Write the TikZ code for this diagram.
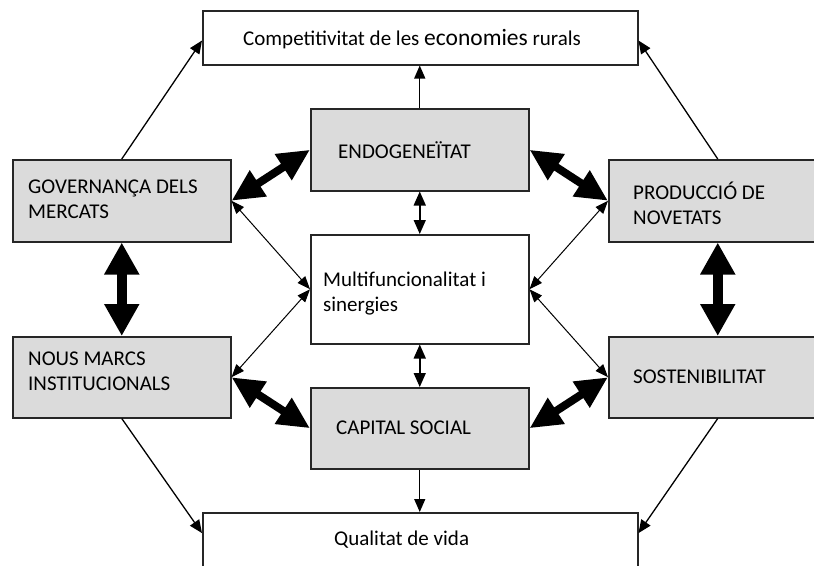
\documentclass[tikz,border=0pt]{standalone}
\usepackage{fontspec}
\setmainfont{Carlito}
\usetikzlibrary{arrows.meta,calc}
\begin{document}
\begin{tikzpicture}[x=1pt,y=-1pt,
  box/.style={draw=black!85, line width=1.5pt, anchor=north west, inner sep=0pt},
  graybox/.style={box, fill=black!14},
  whitebox/.style={box, fill=white},
  lbl/.style={anchor=base west, inner sep=0pt, font=\fontsize{21}{25}\selectfont},
  oneway/.style={line width=1.3pt, -{Triangle[length=13pt,width=11pt]}},
  twoway/.style={line width=1.5pt, {Triangle[length=14pt,width=12pt]}-{Triangle[length=14pt,width=12pt]}},
  twowaythin/.style={line width=1pt, {Triangle[length=13pt,width=10pt]}-{Triangle[length=13pt,width=10pt]}},
  heavy/.style={line width=8pt, {Triangle[length=32pt,width=29pt]}-{Triangle[length=32pt,width=29pt]}},
  heavyv/.style={line width=10pt, {Triangle[length=32pt,width=33pt]}-{Triangle[length=32pt,width=33pt]}}
]
\clip (0,0) rectangle (814,565);
% boxes
\node[whitebox, minimum width=435pt, minimum height=54pt] (comp) at (202,10) {};
\node[graybox, minimum width=218pt, minimum height=82pt] (endo) at (310,108) {};
\node[graybox, minimum width=218pt, minimum height=82pt] (gov) at (12,159) {};
\node[graybox, minimum width=218pt, minimum height=82pt] (prod) at (608,159) {};
\node[whitebox, minimum width=218pt, minimum height=109pt] (multi) at (310,234) {};
\node[graybox, minimum width=218pt, minimum height=81pt] (nous) at (12,336) {};
\node[graybox, minimum width=218pt, minimum height=81pt] (sost) at (608,336) {};
\node[graybox, minimum width=218pt, minimum height=81pt] (cap) at (310,387) {};
\node[whitebox, minimum width=435pt, minimum height=54pt] (qual) at (202,512) {};
% texts
\node[lbl] (tcomp) at (243,45) {Competitivitat de les {\fontsize{23.5}{25}\selectfont economies} rurals};
\node[lbl] (tendo) at (338,158) {ENDOGENEÏTAT};
\node[lbl] (tgov) at (28,193) {\parbox[t]{200pt}{\raggedright GOVERNANÇA DELS\\MERCATS}};
\node[lbl] (tprod) at (633,199) {\parbox[t]{180pt}{\raggedright PRODUCCIÓ DE\\NOVETATS}};
\node[lbl] (tmulti) at (323,286) {\parbox[t]{200pt}{\raggedright Multifuncionalitat i\\sinergies}};
\node[lbl] (tnous) at (28,365) {\parbox[t]{200pt}{\raggedright NOUS MARCS\\INSTITUCIONALS}};
\node[lbl] (tsost) at (633,383) {SOSTENIBILITAT};
\node[lbl] (tcap) at (336,434) {CAPITAL SOCIAL};
\node[lbl] (tqual) at (334,545) {Qualitat de vida};
% one-way arrows
\draw[oneway] (endo.north) -- (endo.north |- comp.south);
\draw[oneway] (gov.north) -- ($(comp.north west)!0.55!(comp.south west)$);
\draw[oneway] (prod.north) -- ($(comp.north east)!0.55!(comp.south east)$);
\draw[oneway] (nous.south) -- ($(qual.north west)!0.38!(qual.south west)$);
\draw[oneway] (sost.south) -- ($(qual.north east)!0.38!(qual.south east)$);
\draw[oneway] (cap.south) -- (cap.south |- qual.north);
% thin two-way arrows
\draw[twoway] (endo.south) -- (endo.south |- multi.north);
\draw[twoway] (multi.south) -- (multi.south |- cap.north);
\draw[twowaythin] (gov.east) -- (multi.west);
\draw[twowaythin] (nous.east) -- (multi.west);
\draw[twowaythin] (prod.west) -- (multi.east);
\draw[twowaythin] (sost.west) -- (multi.east);
% heavy arrows
\draw[heavy] (gov.east) -- (endo.west);
\draw[heavy] (endo.east) -- (prod.west);
\draw[heavy] (nous.east) -- (cap.west);
\draw[heavy] (cap.east) -- (sost.west);
\draw[heavyv] (gov.south) -- (nous.north);
\draw[heavyv] (prod.south) -- (sost.north);
\end{tikzpicture}
\end{document}
